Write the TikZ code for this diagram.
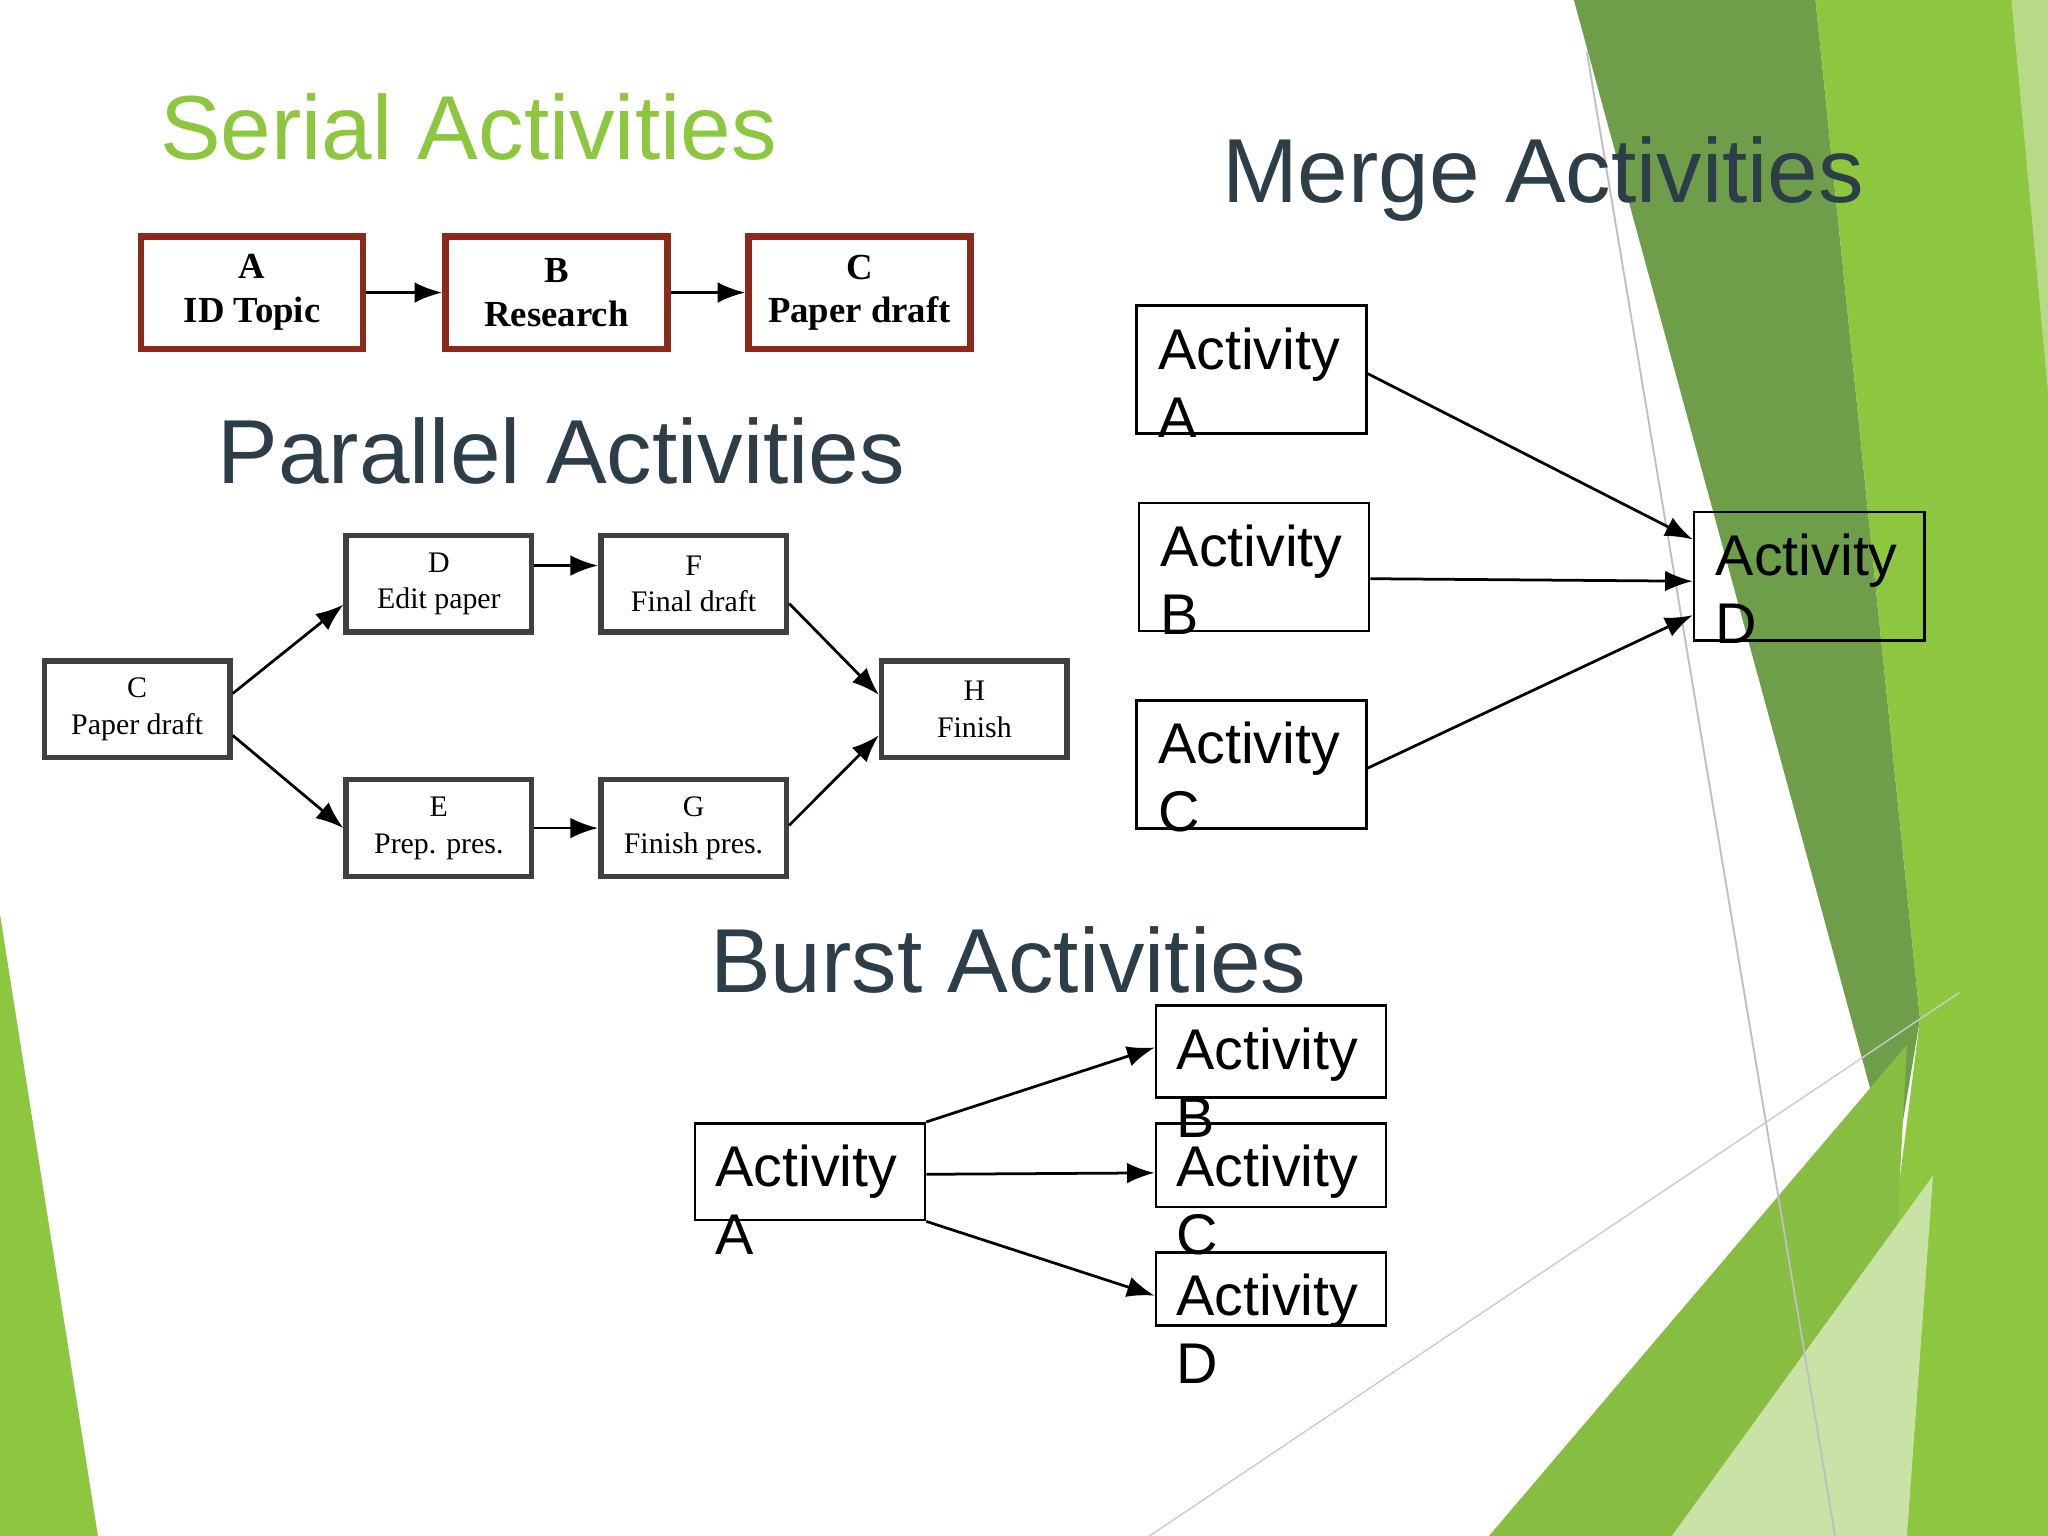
\documentclass[tikz,border=0pt]{standalone}
\usepackage{fontspec}
\setmainfont{Liberation Sans}
\newfontfamily\serifb{Liberation Serif}
\usetikzlibrary{arrows.meta}
\definecolor{gA}{HTML}{8DC63F}
\definecolor{gD}{HTML}{6F9E4B}
\definecolor{gL}{HTML}{C9E2A6}
\definecolor{slate}{HTML}{2D3E48}
\definecolor{brn}{HTML}{8B2A1A}
\begin{document}
\begin{tikzpicture}[x=0.01cm,y=-0.01cm,
 act/.style={draw,line width=0.6pt,minimum width=1.76cm,minimum height=0.98cm,anchor=north west,inner sep=0},
 atxt/.style={font=\fontsize{12.5pt}{14.8pt}\selectfont,align=left,anchor=north west,inner sep=0},
 sbox/.style={draw=brn,line width=1.4pt,minimum width=1.70cm,minimum height=0.86cm,font=\serifb\bfseries\fontsize{8pt}{9.5pt}\selectfont,align=center,inner sep=0},
 pbox/.style={draw=black!75,line width=1.2pt,minimum width=1.42cm,minimum height=0.74cm,font=\serifb\fontsize{6.5pt}{8pt}\selectfont,align=center,inner sep=0},
 arr/.style={-{Latex[length=6pt,width=4.5pt]},line width=0.6pt},
 ttl/.style={font=\fontsize{19.8pt}{22pt}\selectfont,anchor=west,text=slate,inner sep=0}]
\useasboundingbox (0,0) rectangle (1568,1176);
\fill[white] (0,0) rectangle (1568,1176);
% background
\fill[gD] (1205,0) -- (1390,0) -- (1470,780) -- (1450,900) -- cycle;
\fill[gA] (1390,0) -- (1568,0) -- (1568,1176) -- (1420,1176) -- (1470,780) -- cycle;
\fill[gL!70!gA] (1540,0) -- (1568,0) -- (1568,300) -- cycle;
\fill[gA!80!gD] (1140,1176) -- (1460,800) -- (1440,1176) -- cycle;
\fill[gL] (1280,1176) -- (1480,900) -- (1460,1176) -- cycle;
\fill[gA] (0,700) -- (75,1176) -- (0,1176) -- cycle;
\draw[gray!50,line width=0.4pt] (1215,40) -- (1405,1176);
\draw[gray!40,line width=0.3pt] (880,1176) -- (1500,760);
% Serial
\node[anchor=west,inner sep=0,font=\fontsize{19.8pt}{22pt}\selectfont,text=gA] at (122,97) {Serial Activities};
\node[sbox] (sa) at (193,224) {A\\ID Topic};
\node[sbox] (sb) at (426,224) {B\\Research};
\node[sbox] (sc) at (658,224) {C\\Paper draft};
\draw[arr] (sa) -- (sb);
\draw[arr] (sb) -- (sc);
% Parallel
\node[ttl] at (166,345) {Parallel Activities};
\node[pbox] (pc) at (105,543) {C\\Paper draft};
\node[pbox] (pd) at (336,447) {D\\Edit paper};
\node[pbox] (pf) at (531,447) {F\\Final draft};
\node[pbox] (pe) at (336,634) {E\\Prep. pres.};
\node[pbox] (pg) at (531,634) {G\\Finish pres.};
\node[pbox] (ph) at (746,543) {H\\Finish};
\draw[arr] ([yshift=0.12cm]pc.east) -- ([yshift=-0.16cm]pd.west);
\draw[arr] ([yshift=-0.2cm]pc.east) -- ([yshift=0cm]pe.west);
\draw[arr] ([yshift=0.14cm]pd.east) -- ([yshift=0.14cm]pf.west);
\draw[arr] (pe) -- (pg);
\draw[arr] ([yshift=-0.15cm]pf.east) -- ([yshift=0.11cm]ph.west);
\draw[arr] ([yshift=0.02cm]pg.east) -- ([yshift=-0.2cm]ph.west);
% Merge
\node[ttl] at (935,137) {Merge Activities};
\node[act] (ma) at (869,233) {};
\node[atxt] at (886,250) {Activity\\A};
\node[act] (mb) at (871,384) {};
\node[atxt] at (888,401) {Activity\\B};
\node[act] (mc) at (869,535) {};
\node[atxt] at (886,552) {Activity\\C};
\node[act] (md) at (1296,391) {};
\node[atxt] at (1313,408) {Activity\\D};
\draw[arr] (ma.east) ++(0,3) coordinate (m1) (m1) -- (1296,413);
\draw[arr] (mb.east) ++(0,9) coordinate (m2) (m2) -- (1296,445);
\draw[arr] (mc.east) ++(0,3) coordinate (m3) (m3) -- (1296,471);
% Burst
\node[ttl] at (543,735) {Burst Activities};
\node[act,minimum height=0.74cm] (ba) at (531,859) {};
\node[atxt] at (547,876) {Activity\\A};
\node[act,minimum height=0.70cm] (bb) at (884,769) {};
\node[atxt] at (900,786) {Activity\\B};
\node[act,minimum height=0.64cm] (bc) at (884,859) {};
\node[atxt] at (900,876) {Activity\\C};
\node[act,minimum height=0.56cm] (bd) at (884,958) {};
\node[atxt] at (900,975) {Activity\\D};
\draw[arr] (ba.north east) -- (884,802);
\draw[arr] (ba.east) ++(0,2) coordinate (b2) (b2) -- (884,898);
\draw[arr] (ba.south east) -- (884,992);
\end{tikzpicture}
\end{document}
